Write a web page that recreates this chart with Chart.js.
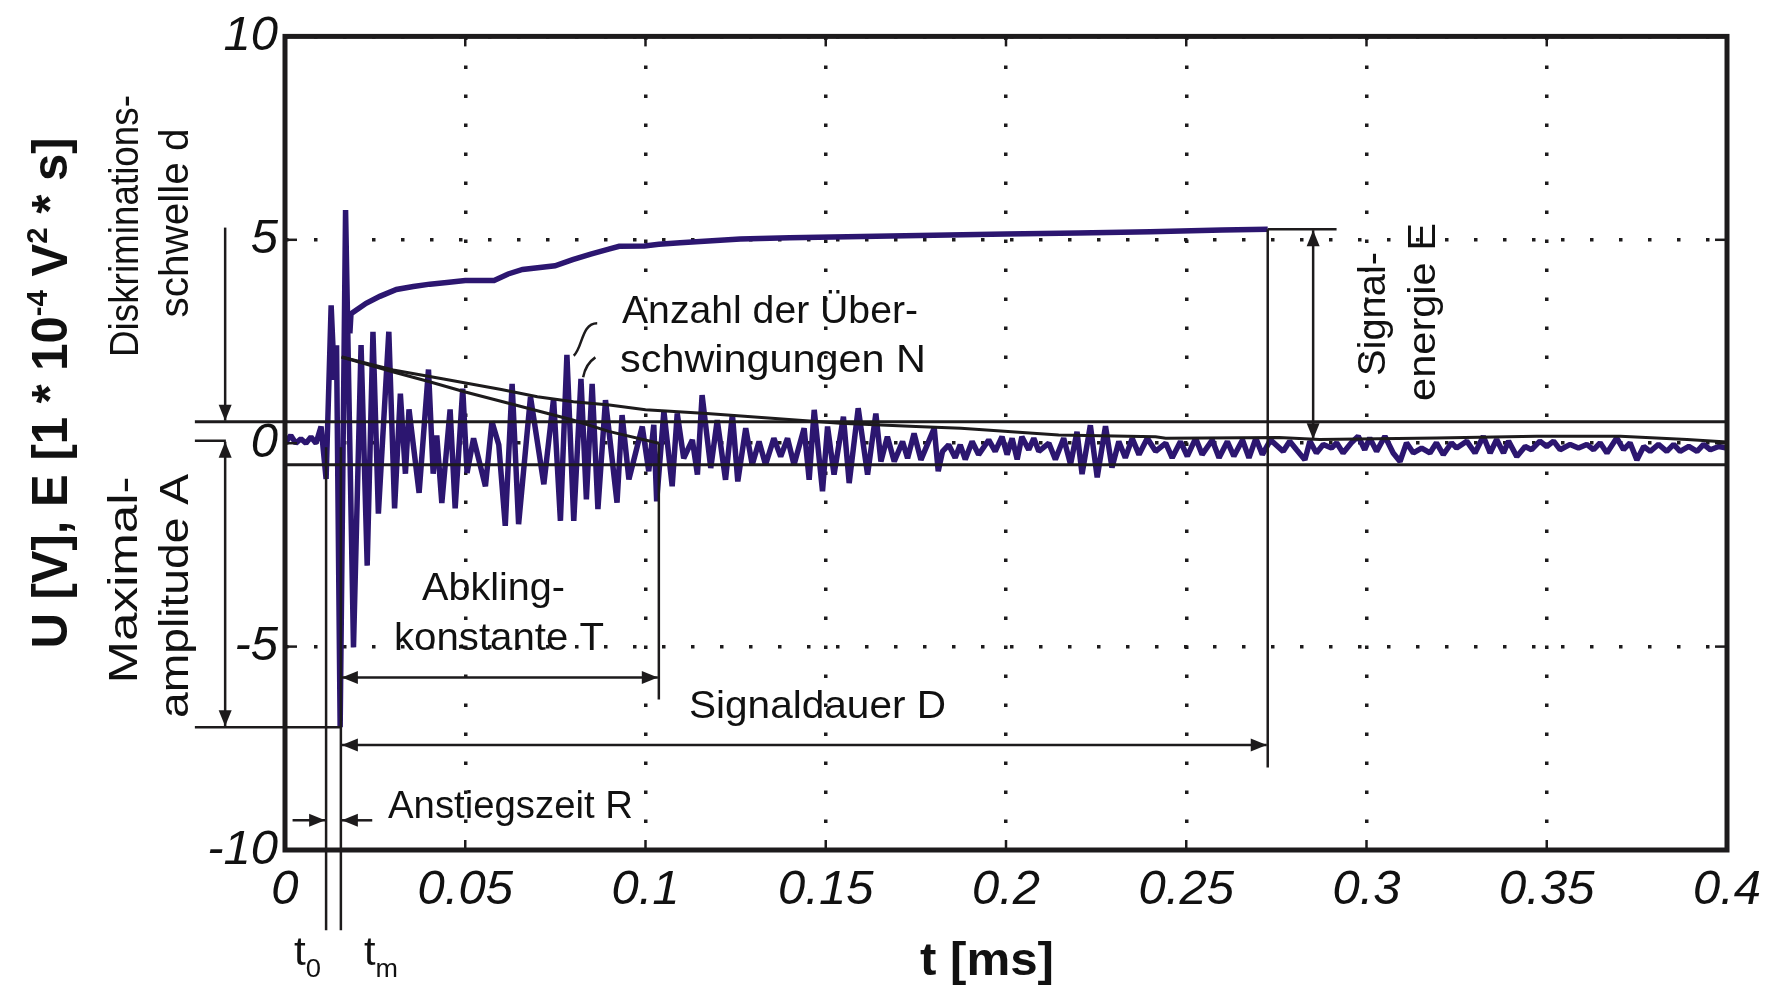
<!DOCTYPE html>
<html>
<head>
<meta charset="utf-8">
<script src="https://cdn.jsdelivr.net/npm/chart.js@4.4.0/dist/chart.umd.min.js"></script>
<style>
  html, body { margin: 0; padding: 0; background: #fff; }
  canvas { display: block; }
</style>
</head>
<body>
<canvas id="chart" width="1781" height="985"></canvas>
<script>
const FONT = "'Liberation Sans', Arial, Helvetica, sans-serif";
const INK = '#1d1b1c';
const BLUE = '#2c1670';

// axis ticks
const xTickLabels = ['0', '0.05', '0.1', '0.15', '0.2', '0.25', '0.3', '0.35', '0.4'];
const yTickLabels = ['-10', '-5', '0', '5', '10'];

// signal U(t), t in ms, U in V
const sigT = [
  0, 0.0016, 0.0030, 0.0044, 0.0058, 0.0072, 0.0086, 0.0100, 0.0114, 0.0128,
  0.0137, 0.0143, 0.0153, 0.0168, 0.0190, 0.0211, 0.0228, 0.0244, 0.0259, 0.0288,
  0.0304, 0.0320, 0.0334, 0.0344, 0.0372, 0.0398, 0.0411, 0.0421, 0.0435, 0.0458,
  0.0472, 0.0493, 0.0505, 0.0523, 0.0556, 0.0574, 0.0593, 0.0611, 0.0630, 0.0648,
  0.0681, 0.0718, 0.0745, 0.0764, 0.0782, 0.0801, 0.0821, 0.0836, 0.0852, 0.0868,
  0.0889, 0.0921, 0.0935, 0.0954, 0.0991, 0.1009, 0.1023, 0.1031, 0.1051, 0.1074,
  0.1088, 0.1106, 0.1130, 0.1144, 0.1157, 0.1181, 0.1199, 0.1222, 0.1241, 0.1256,
  0.1278, 0.1296, 0.1315, 0.1333, 0.1356, 0.1375, 0.1394, 0.1412, 0.1440, 0.1454,
  0.1468, 0.1491, 0.1505, 0.1523, 0.1549, 0.1565, 0.1590, 0.1616, 0.1639, 0.1653,
  0.1671, 0.1690, 0.1713, 0.1727, 0.1745, 0.1764, 0.1801, 0.1812, 0.1824, 0.1841,
  0.1859, 0.1873, 0.1887, 0.1906, 0.1924, 0.1952, 0.1970, 0.1989, 0.2003, 0.2017,
  0.2031, 0.2044, 0.2063, 0.2077, 0.2091, 0.2119, 0.2137, 0.2160, 0.2179, 0.2197,
  0.2211, 0.2234, 0.2253, 0.2276, 0.2294, 0.2313, 0.2331, 0.2350, 0.2369, 0.2392,
  0.2415, 0.2443, 0.2461, 0.2484, 0.2503, 0.2526, 0.2544, 0.2572, 0.2591, 0.2614,
  0.2632, 0.2656, 0.2674, 0.2693, 0.2711, 0.2734, 0.2769, 0.2787, 0.2806, 0.2829,
  0.2843, 0.2861, 0.2880, 0.2903, 0.2917, 0.2935, 0.2958, 0.2977, 0.2995, 0.3009,
  0.3028, 0.3051, 0.3074, 0.3093, 0.3111, 0.3130, 0.3153, 0.3176, 0.3194, 0.3213,
  0.3236, 0.3250, 0.3278, 0.3301, 0.3324, 0.3343, 0.3361, 0.3380, 0.3394, 0.3417,
  0.3440, 0.3458, 0.3481, 0.3500, 0.3519, 0.3537, 0.3565, 0.3588, 0.3611, 0.3630,
  0.3648, 0.3667, 0.3694, 0.3713, 0.3731, 0.3750, 0.3769, 0.3787, 0.3810, 0.3833,
  0.3852, 0.3870, 0.3894, 0.3917, 0.3935, 0.3954, 0.3977, 0.4000
];
const sigV = [
  0.00, 0.19, 0.00, 0.11, 0.00, 0.15, 0.00, 0.41, -0.88, 3.39,
  1.56, 2.41, -6.98, 5.73, -5.02, 2.41, -3.01, 2.74, -1.73, 2.74,
  -1.60, 1.22, -0.75, 0.83, -1.22, 1.81, -0.75, 0.19, -1.47, 0.83,
  -1.60, 1.34, -0.73, 0.12, -1.06, 0.53, -0.04, -2.03, 1.46, -1.99,
  1.14, -1.01, 1.10, -1.91, 2.17, -1.91, 1.58, -1.38, 1.46, -1.62,
  1.06, -1.46, 0.69, -0.89, 0.41, -0.69, 0.45, -1.43, 0.79, -1.06,
  0.73, -0.37, 0.08, -0.77, 1.18, -0.61, 0.57, -0.90, 0.71, -0.94,
  0.37, -0.53, 0.04, -0.53, 0.12, -0.33, 0.12, -0.53, 0.37, -0.90,
  0.82, -1.18, 0.41, -0.77, 0.65, -0.98, 0.86, -0.77, 0.73, -0.45,
  0.16, -0.45, 0.04, -0.37, 0.24, -0.41, 0.37, -0.69, -0.20, -0.04,
  -0.36, -0.04, -0.40, 0.04, -0.28, 0.08, -0.20, 0.16, -0.28, 0.12,
  -0.40, 0.16, -0.16, 0.12, -0.20, 0.00, -0.40, 0.12, -0.52, 0.28,
  -0.76, 0.44, -0.84, 0.42, -0.60, 0.04, -0.36, 0.12, -0.28, 0.12,
  -0.20, 0.00, -0.36, 0.04, -0.32, 0.12, -0.28, 0.08, -0.36, 0.04,
  -0.32, 0.08, -0.36, 0.12, -0.28, 0.08, -0.20, 0.05, -0.16, -0.41,
  0.05, -0.24, -0.03, -0.12, 0.01, -0.24, 0.01, 0.17, -0.16, 0.13,
  -0.20, 0.17, -0.24, -0.45, 0.01, -0.24, -0.12, -0.24, 0.01, -0.28,
  0.01, -0.12, 0.05, -0.24, 0.17, -0.24, 0.09, -0.24, 0.05, -0.33,
  -0.08, -0.16, 0.05, -0.08, 0.05, -0.16, -0.03, -0.12, -0.03, -0.16,
  0.01, -0.24, 0.13, -0.16, 0.01, -0.41, -0.08, -0.20, -0.03, -0.20,
  -0.03, -0.20, -0.08, -0.20, -0.03, -0.16, -0.08, -0.12
];

// signal energy E(t), 1e-4 V^2 s
const energyT = [0.0180, 0.0183, 0.0225, 0.0263, 0.0309, 0.0356, 0.0402, 0.0449, 0.0500, 0.0580,
  0.0619, 0.0659, 0.0749, 0.0798, 0.0848, 0.0898, 0.0927, 0.0997, 0.1037, 0.1096,
  0.1196, 0.1263, 0.1400, 0.1600, 0.1800, 0.2000, 0.2200, 0.2400, 0.2600, 0.2726];
const energyV = [2.70, 3.18, 3.44, 3.61, 3.78, 3.85, 3.91, 3.95, 4.00, 4.00,
  4.16, 4.27, 4.36, 4.51, 4.65, 4.77, 4.84, 4.85, 4.89, 4.93,
  4.98, 5.02, 5.05, 5.08, 5.11, 5.14, 5.17, 5.20, 5.24, 5.26];

// envelope of the oscillation and tangent for decay constant T
const envT = [0.0157, 0.030, 0.044, 0.060, 0.070, 0.080, 0.090, 0.100, 0.117, 0.136, 0.154, 0.175,
  0.1875, 0.2146, 0.2415, 0.2443, 0.2757, 0.287, 0.3194, 0.3472, 0.3704, 0.3889, 0.400];
const envV = [2.12, 1.80, 1.58, 1.32, 1.14, 1.02, 0.94, 0.82, 0.73, 0.61, 0.49, 0.41,
  0.37, 0.20, 0.16, 0.12, 0.14, 0.09, 0.13, 0.17, 0.17, 0.09, 0.03];
const decayT = [0.0157, 0.0301, 0.0401, 0.0500, 0.0639, 0.0798, 0.0898, 0.1037];
const decayV = [2.12, 1.75, 1.51, 1.26, 0.94, 0.57, 0.29, 0.00];

// characteristic values
const thrV = 0.53;       // discrimination threshold +-d
const t0 = 0.0114;       // first threshold crossing
const tm = 0.0155;       // time of maximum amplitude
const tT = 0.1037;       // end of decay constant T
const tD = 0.2726;       // end of signal duration D
const tE = 0.2852;       // energy arrow
const ampV = -6.98;      // maximum amplitude A
const eEnd = 5.26;       // final signal energy

const pts = (ts, vs) => ts.map((t, i) => ({ x: t, y: vs[i] }));

function seg(ctx, x1, y1, x2, y2) {
  ctx.beginPath(); ctx.moveTo(x1, y1); ctx.lineTo(x2, y2); ctx.stroke();
}
function head(ctx, x, y, dx, dy) {
  const l = Math.hypot(dx, dy), ux = dx / l, uy = dy / l, L = 16, W = 6.5;
  ctx.beginPath();
  ctx.moveTo(x, y);
  ctx.lineTo(x - ux * L - uy * W, y - uy * L + ux * W);
  ctx.lineTo(x - ux * L + uy * W, y - uy * L - ux * W);
  ctx.closePath(); ctx.fill();
}
function arrow(ctx, x1, y1, x2, y2, a, b) {
  seg(ctx, x1, y1, x2, y2);
  if (b) head(ctx, x2, y2, x2 - x1, y2 - y1);
  if (a) head(ctx, x1, y1, x1 - x2, y1 - y2);
}
// draw text parts squeezed/stretched to a given length
function fitText(ctx, parts, x, y, width, rotated) {
  let total = 0;
  parts.forEach(p => { ctx.font = p.font; p.w = ctx.measureText(p.s).width; total += p.w; });
  ctx.save();
  ctx.translate(x, y);
  if (rotated) ctx.rotate(-Math.PI / 2);
  ctx.scale(width / total, 1);
  ctx.textAlign = 'left';
  ctx.textBaseline = 'alphabetic';
  let cx = rotated ? -total / 2 : 0;
  parts.forEach(p => { ctx.font = p.font; ctx.fillText(p.s, cx, p.dy || 0); cx += p.w; });
  ctx.restore();
}
const f = (size, bold) => (bold ? 'bold ' : '') + size + 'px ' + FONT;
const one = (s, size, bold) => [{ s: s, font: f(size, bold) }];

const annotations = {
  id: 'annotations',
  afterDatasetsDraw(chart) {
    const ctx = chart.ctx, xs = chart.scales.x, ys = chart.scales.y, a = chart.chartArea;
    const X = v => xs.getPixelForValue(v), Y = v => ys.getPixelForValue(v);
    const xOut = X(-0.025), xRef = X(-0.0164), xArr = X(-0.0166);
    ctx.save();
    ctx.strokeStyle = INK; ctx.fillStyle = INK; ctx.lineCap = 'butt';

    // threshold lines and reference lines
    ctx.lineWidth = 3;
    seg(ctx, xOut, Y(thrV), a.right, Y(thrV));
    seg(ctx, a.left, Y(-thrV), a.right, Y(-thrV));
    ctx.lineWidth = 2.5;
    seg(ctx, xOut, Y(0.06), xRef, Y(0.06));
    seg(ctx, xOut, Y(ampV), X(tm + 0.0003), Y(ampV));

    // discrimination threshold and maximum amplitude arrows
    arrow(ctx, xArr, Y(5.3), xArr, Y(thrV) - 1, false, true);
    arrow(ctx, xArr, Y(0.06) + 1, xArr, Y(ampV) - 1, true, true);

    // t0 / tm markers
    seg(ctx, X(t0), Y(-0.1), X(t0), Y(-11.97));
    seg(ctx, X(tm), Y(-0.1), X(tm), Y(-11.97));

    // rise time arrows
    arrow(ctx, X(0.0021), Y(-9.27), X(t0) - 1, Y(-9.27), false, true);
    arrow(ctx, X(0.0242), Y(-9.27), X(tm) + 1, Y(-9.27), false, true);

    // decay constant T
    seg(ctx, X(tT), Y(0), X(tT), Y(-6.3));
    arrow(ctx, X(tm) + 1, Y(-5.76), X(tT) - 1, Y(-5.76), true, true);

    // signal duration D
    seg(ctx, X(tD), Y(eEnd), X(tD), Y(-7.97));
    arrow(ctx, X(tm) + 1, Y(-7.42), X(tD) - 1, Y(-7.42), true, true);

    // signal energy E
    seg(ctx, X(tD), Y(eEnd), X(0.2917), Y(eEnd));
    arrow(ctx, X(tE), Y(eEnd) + 1, X(tE), Y(0.1), true, true);

    // pointers for number of overshoots N
    ctx.lineWidth = 2.5;
    ctx.beginPath();
    ctx.moveTo(X(0.0866), Y(2.95));
    ctx.bezierCurveTo(X(0.0822), Y(2.95), X(0.0826), Y(2.35), X(0.0801), Y(2.15));
    ctx.stroke();
    ctx.beginPath();
    ctx.moveTo(X(0.0861), Y(2.11));
    ctx.quadraticCurveTo(X(0.0834), Y(1.95), X(0.0827), Y(1.62));
    ctx.stroke();

    // frame and inward ticks
    ctx.lineWidth = 5;
    ctx.strokeRect(a.left, a.top, a.right - a.left, a.bottom - a.top);
    ctx.lineWidth = 2.5;
    xs.ticks.forEach(t => {
      const px = X(t.value);
      seg(ctx, px, a.bottom, px, a.bottom - 10);
      seg(ctx, px, a.top, px, a.top + 10);
    });
    ys.ticks.forEach(t => {
      const py = Y(t.value);
      seg(ctx, a.left, py, a.left + 12, py);
      seg(ctx, a.right, py, a.right - 12, py);
    });

    // labels
    ctx.fillStyle = '#111';
    fitText(ctx, one('Anzahl der Über-', 39), 622, 323, 296);
    fitText(ctx, one('schwingungen N', 39), 620, 372, 306);
    fitText(ctx, one('Abkling-', 39), 422, 600, 143);
    fitText(ctx, one('konstante T', 39), 394, 650, 210);
    fitText(ctx, one('Signaldauer D', 39), 689, 718, 257);
    fitText(ctx, one('Anstiegszeit R', 39), 388, 818, 245);
    fitText(ctx, one('Signal-', 39), 1385, 314, 124, true);
    fitText(ctx, one('energie E', 39), 1435, 312, 178, true);
    fitText(ctx, one('Diskriminations-', 40), 138, 226, 262, true);
    fitText(ctx, one('schwelle d', 40), 188, 223, 189, true);
    fitText(ctx, one('Maximal-', 40), 137, 580, 207, true);
    fitText(ctx, one('amplitude A', 40), 188, 596, 244, true);

    fitText(ctx, [
      { s: 'U [V], E [1 * 10', font: f(50, true) },
      { s: '-4', font: f(30, true), dy: -20 },
      { s: ' V', font: f(50, true) },
      { s: '2', font: f(30, true), dy: -20 },
      { s: ' * s]', font: f(50, true) }
    ], 67, 393, 511, true);
    fitText(ctx, one('t [ms]', 46, true), 920, 975, 134);
    fitText(ctx, [{ s: 't', font: f(40) }, { s: '0', font: f(26), dy: 12 }], 294, 965, 27);
    fitText(ctx, [{ s: 't', font: f(40) }, { s: 'm', font: f(26), dy: 12 }], 364, 965, 34);
    ctx.restore();
  }
};

const tickFont = { family: FONT, size: 49, style: 'italic' };

new Chart(document.getElementById('chart'), {
  type: 'line',
  data: {
    datasets: [
      { data: pts(envT, envV), borderColor: INK, borderWidth: 3 },
      { data: pts(decayT, decayV), borderColor: INK, borderWidth: 3 },
      { data: pts(energyT, energyV), borderColor: BLUE, borderWidth: 5.5 },
      { data: pts(sigT, sigV), borderColor: BLUE, borderWidth: 5.5, borderJoinStyle: 'bevel' }
    ]
  },
  options: {
    responsive: false,
    animation: false,
    devicePixelRatio: 1,
    layout: { padding: { top: 29, right: 54, left: 0, bottom: 0 } },
    elements: { point: { radius: 0 }, line: { tension: 0, fill: false } },
    plugins: { legend: { display: false }, tooltip: { enabled: false } },
    scales: {
      x: {
        type: 'linear', min: 0, max: 0.4,
        afterFit: s => { s.height = 135; },
        grid: { color: INK, lineWidth: 3.5, drawTicks: false },
        border: { display: false, dash: [3.5, 25.5] },
        ticks: {
          stepSize: 0.05, autoSkip: false, maxRotation: 0, padding: 11,
          color: '#111', font: tickFont,
          callback: (v, i) => xTickLabels[i]
        }
      },
      y: {
        min: -10, max: 10,
        afterFit: s => { s.width = 285; },
        grid: { color: INK, lineWidth: 3.5, drawTicks: false },
        border: { display: false, dash: [3.5, 25.5] },
        ticks: {
          stepSize: 5, autoSkip: false, padding: 7,
          color: '#111', font: tickFont,
          callback: (v, i) => yTickLabels[i]
        }
      }
    }
  },
  plugins: [annotations]
});
</script>
</body>
</html>
